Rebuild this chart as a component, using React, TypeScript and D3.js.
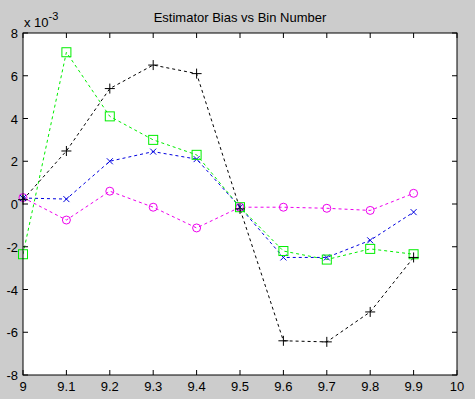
import React from "react";
import * as d3 from "d3";

const xs = [9.0, 9.1, 9.2, 9.3, 9.4, 9.5, 9.6, 9.7, 9.8, 9.9];
const blackPlus = [0.2, 2.48, 5.4, 6.5, 6.1, -0.23, -6.4, -6.45, -5.05, -2.5];
const greenSquare = [-2.35, 7.1, 4.1, 3.0, 2.3, -0.15, -2.2, -2.6, -2.1, -2.35];
const blueX = [0.28, 0.23, 2.0, 2.45, 2.1, -0.15, -2.5, -2.5, -1.7, -0.38];
const magentaO = [0.3, -0.75, 0.6, -0.15, -1.12, -0.15, -0.15, -0.2, -0.3, 0.5];

const xTicks = [9, 9.1, 9.2, 9.3, 9.4, 9.5, 9.6, 9.7, 9.8, 9.9, 10];
const yTicks = [-8, -6, -4, -2, 0, 2, 4, 6, 8];

const W = 475, H = 399;
const L = 23, R = 457, T = 33, B = 375;

export default function App() {
  const x = d3.scaleLinear().domain([9, 10]).range([L, R]);
  const y = d3.scaleLinear().domain([-8, 8]).range([B, T]);
  const line = d3.line<number>().x((_, i) => x(xs[i])).y((d) => y(d));
  const font = "Arial, 'Liberation Sans', sans-serif";

  const series = [
    { data: magentaO, color: "#ee00ee", marker: "o" },
    { data: blueX, color: "#0000e0", marker: "x" },
    { data: greenSquare, color: "#00ee00", marker: "s" },
    { data: blackPlus, color: "#000000", marker: "+" },
  ];

  const marker = (m: string, cx: number, cy: number, color: string, k: number) => {
    if (m === "o") return <circle key={k} cx={cx} cy={cy} r={4} fill="none" stroke={color} strokeWidth={1} />;
    if (m === "s") return <rect key={k} x={cx - 4.5} y={cy - 4.5} width={9} height={9} fill="none" stroke={color} strokeWidth={1} />;
    if (m === "x")
      return (
        <path key={k} d={`M${cx - 3},${cy - 3}L${cx + 3},${cy + 3}M${cx - 3},${cy + 3}L${cx + 3},${cy - 3}`} stroke={color} strokeWidth={1} />
      );
    return <path key={k} d={`M${cx - 5},${cy}L${cx + 5},${cy}M${cx},${cy - 5}L${cx},${cy + 5}`} stroke={color} strokeWidth={1} />;
  };

  return (
    <div style={{ position: "fixed", left: 0, top: 0 }}>
      <svg width={W} height={H} style={{ display: "block" }} fontFamily={font}>
        <rect x={0} y={0} width={W} height={H} fill="#cccccc" />
        <rect x={L} y={T} width={R - L} height={B - T} fill="#ffffff" />
        <defs>
          <clipPath id="clip">
            <rect x={L} y={T} width={R - L} height={B - T} />
          </clipPath>
        </defs>
        <g clipPath="url(#clip)">
          {series.map((s, si) => (
            <g key={si}>
              <path d={line(s.data) || ""} fill="none" stroke={s.color} strokeWidth={1} strokeDasharray="3,3" />
            </g>
          ))}
        </g>
        {series.map((s, si) => (
          <g key={"m" + si}>{s.data.map((v, i) => marker(s.marker, x(xs[i]), y(v), s.color, i))}</g>
        ))}
        <rect x={L} y={T} width={R - L} height={B - T} fill="none" stroke="#000" strokeWidth={1} />
        {xTicks.map((t, i) => (
          <g key={"xt" + i}>
            <line x1={x(t)} x2={x(t)} y1={B} y2={B - 5} stroke="#000" />
            <line x1={x(t)} x2={x(t)} y1={T} y2={T + 5} stroke="#000" />
            <text x={x(t)} y={B + 16} fontSize={13} textAnchor="middle" fill="#000">
              {String(t)}
            </text>
          </g>
        ))}
        {yTicks.map((t, i) => (
          <g key={"yt" + i}>
            <line x1={L} x2={L + 5} y1={y(t)} y2={y(t)} stroke="#000" />
            <line x1={R} x2={R - 5} y1={y(t)} y2={y(t)} stroke="#000" />
            <text x={L - 5} y={y(t) + 5} fontSize={13} textAnchor="end" fill="#000">
              {String(t)}
            </text>
          </g>
        ))}
        <text x={24} y={27} fontSize={13} fill="#000">
          x 10
          <tspan dy={-7} fontSize={11}>-3</tspan>
        </text>
        <text x={(L + R) / 2} y={22} fontSize={13} textAnchor="middle" fill="#000">
          Estimator Bias vs Bin Number
        </text>
      </svg>
    </div>
  );
}
